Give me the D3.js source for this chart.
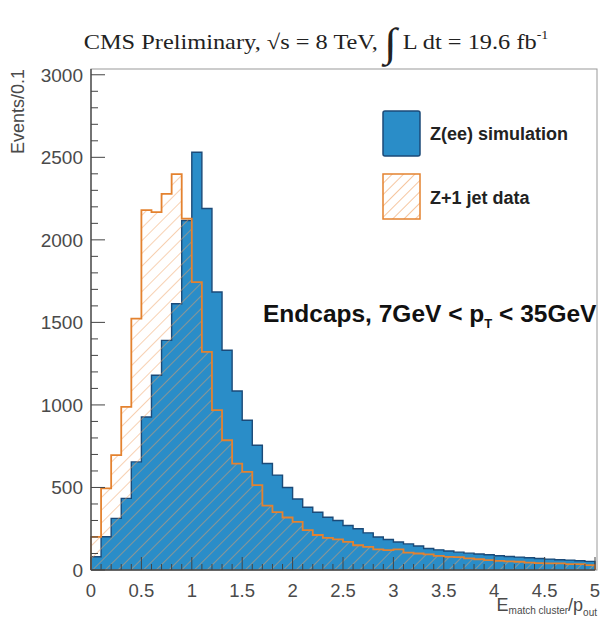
<!DOCTYPE html>
<html>
<head>
<meta charset="utf-8">
<script src="https://cdn.jsdelivr.net/npm/d3@7"></script>
<style>
  html, body { margin: 0; padding: 0; background: #fff; }
  svg { display: block; }
</style>
</head>
<body>
<svg id="chart" width="601" height="619"></svg>
<script>
// ---- data ----
const binEdgesStart = 0, binWidth = 0.1, nBins = 50;
const simValues = [80, 201, 313, 434, 655, 927, 1180, 1391, 1613, 2117,
                   2531, 2190, 1684, 1331, 1084, 907, 756, 645, 575, 500,
                   430, 380, 350, 320, 300, 270, 250, 225, 200, 185,
                   170, 158, 145, 130, 122, 115, 108, 102, 97, 92,
                   86, 82, 78, 74, 70, 66, 62, 60, 56, 52];
const dataValues = [201, 494, 696, 988, 1523, 2180, 2168, 2279, 2398, 2128,
                    1744, 1321, 968, 786, 645, 595, 514, 390, 350, 318,
                    292, 242, 212, 195, 185, 170, 150, 140, 125, 120,
                    125, 105, 100, 95, 85, 80, 78, 70, 65, 60,
                    55, 52, 50, 45, 42, 40, 40, 35, 35, 30];
const xTicks = [0, 0.5, 1, 1.5, 2, 2.5, 3, 3.5, 4, 4.5, 5];
const xTickLabels = ["0", "0.5", "1", "1.5", "2", "2.5", "3", "3.5", "4", "4.5", "5"];
const yTicks = [0, 500, 1000, 1500, 2000, 2500, 3000];
const yTickLabels = ["0", "500", "1000", "1500", "2000", "2500", "3000"];
const legendLabels = ["Z(ee) simulation", "Z+1 jet data"];

// ---- layout ----
const svg = d3.select("#chart");
const x = d3.scaleLinear().domain([0, 5]).range([91, 595]);
const y = d3.scaleLinear().domain([0, 3035]).range([570, 69]);

const blueFill = "#2a8dc8", blueLine = "#1b4a78";
const orange = "#e4822f";
const sans = "Liberation Sans, Arial, Helvetica, sans-serif";

// hatch pattern
const defs = svg.append("defs");
const pat = defs.append("pattern")
  .attr("id", "hatch").attr("patternUnits", "userSpaceOnUse")
  .attr("width", 9).attr("height", 9)
  .attr("patternTransform", "rotate(45)");
pat.append("line").attr("x1", 0).attr("y1", 0).attr("x2", 0).attr("y2", 9)
  .attr("stroke", "#f0a060").attr("stroke-width", 1.2).attr("stroke-opacity", 0.8);

const legPat = defs.append("pattern")
  .attr("id", "hatchLeg").attr("patternUnits", "userSpaceOnUse")
  .attr("width", 8).attr("height", 8)
  .attr("patternTransform", "rotate(45)");
legPat.append("line").attr("x1", 0).attr("y1", 0).attr("x2", 0).attr("y2", 8)
  .attr("stroke", "#f0a060").attr("stroke-width", 1.2);

function stepPoints(vals) {
  const pts = vals.map((v, i) => [binEdgesStart + i * binWidth, v]);
  pts.push([binEdgesStart + nBins * binWidth, vals[vals.length - 1]]);
  return pts;
}
const area = d3.area().curve(d3.curveStepAfter)
  .x(d => x(d[0])).y0(y(0)).y1(d => y(d[1]));
function outlinePath(vals) {
  let p = `M${x(0)},${y(0)}`;
  vals.forEach((v, i) => {
    p += `L${x(i * binWidth)},${y(v)}L${x((i + 1) * binWidth)},${y(v)}`;
  });
  p += `L${x(5)},${y(0)}`;
  return p;
}

// blue histogram
svg.append("path").attr("d", area(stepPoints(simValues)))
  .attr("fill", blueFill);
svg.append("path").attr("d", outlinePath(simValues))
  .attr("fill", "none").attr("stroke", blueLine).attr("stroke-width", 1.4);

// orange hatched histogram
svg.append("path").attr("d", area(stepPoints(dataValues)))
  .attr("fill", "url(#hatch)");
svg.append("path").attr("d", outlinePath(dataValues))
  .attr("fill", "none").attr("stroke", orange).attr("stroke-width", 1.8);

// frame
svg.append("rect").attr("x", x(0)).attr("y", y(3035))
  .attr("width", x(5) - x(0) + 2).attr("height", y(0) - y(3035))
  .attr("fill", "none").attr("stroke", "#999").attr("stroke-width", 1);

// axes
const axisCol = "#444";
const gx = svg.append("g");
gx.append("line").attr("x1", x(0)).attr("x2", x(5)).attr("y1", y(0)).attr("y2", y(0))
  .attr("stroke", axisCol).attr("stroke-width", 1.3);
d3.range(0, 51).forEach(i => {
  const v = i * 0.1;
  const major = i % 5 === 0;
  gx.append("line").attr("x1", x(v)).attr("x2", x(v))
    .attr("y1", y(0)).attr("y2", y(0) - (major ? 13 : 6))
    .attr("stroke", axisCol).attr("stroke-width", 1);
});
gx.selectAll("text.xt").data(xTicks).enter().append("text")
  .attr("x", d => x(d)).attr("y", 597)
  .attr("text-anchor", "middle")
  .attr("font-family", sans)
  .attr("font-size", 18.5).attr("fill", "#4a4a4a")
  .text((d, i) => xTickLabels[i]);

const gy = svg.append("g");
gy.append("line").attr("x1", x(0)).attr("x2", x(0)).attr("y1", y(0)).attr("y2", y(3035))
  .attr("stroke", axisCol).attr("stroke-width", 1.3);
d3.range(0, 31).forEach(i => {
  const v = i * 100;
  const major = i % 5 === 0;
  gy.append("line").attr("x1", x(0)).attr("x2", x(0) + (major ? 14 : 7))
    .attr("y1", y(v)).attr("y2", y(v))
    .attr("stroke", axisCol).attr("stroke-width", 1);
});
gy.selectAll("text.yt").data(yTicks).enter().append("text")
  .attr("x", 83).attr("y", d => y(d) + 7)
  .attr("text-anchor", "end")
  .attr("font-family", sans)
  .attr("font-size", 19).attr("fill", "#4a4a4a")
  .text((d, i) => yTickLabels[i]);

// axis titles
svg.append("text")
  .attr("transform", "translate(24,69) rotate(-90)")
  .attr("text-anchor", "end")
  .attr("font-family", sans)
  .attr("font-size", 18).attr("fill", "#4a4a4a")
  .text("Events/0.1");

const xt = svg.append("text")
  .attr("x", 597).attr("y", 611).attr("text-anchor", "end")
  .attr("font-family", sans)
  .attr("font-size", 18).attr("fill", "#4a4a4a");
xt.append("tspan").text("E");
xt.append("tspan").attr("font-size", 10).attr("dy", 3).text("match cluster");
xt.append("tspan").attr("dy", -3).text("/p");
xt.append("tspan").attr("font-size", 10).attr("dy", 5).text("out");

// title
const tt = svg.append("text")
  .attr("transform", "translate(316,49) scale(1.16,1)")
  .attr("text-anchor", "middle")
  .attr("font-family", "Liberation Serif, Times New Roman, serif")
  .attr("font-size", 21).attr("fill", "#222");
tt.append("tspan").text("CMS Preliminary, \u221As = 8 TeV, ");
tt.append("tspan").attr("font-size", 40).attr("dy", 7).text("\u222B");
tt.append("tspan").attr("dy", -7).text(" L dt = 19.6 fb");
tt.append("tspan").attr("font-size", 12).attr("dy", -10).text("-1");

// legend
const lg = svg.append("g");
lg.append("rect").attr("x", 383).attr("y", 111).attr("width", 37).attr("height", 45)
  .attr("rx", 2).attr("fill", blueFill).attr("stroke", blueLine).attr("stroke-width", 1.5);
lg.append("rect").attr("x", 383).attr("y", 174).attr("width", 37).attr("height", 45)
  .attr("fill", "url(#hatchLeg)").attr("stroke", orange).attr("stroke-width", 1.5);
lg.selectAll("text.lg").data(legendLabels).enter().append("text")
  .attr("x", 430).attr("y", (d, i) => 140 + i * 64)
  .attr("font-family", sans)
  .attr("font-size", 18).attr("font-weight", "bold").attr("fill", "#222")
  .text(d => d);

// annotation
const an = svg.append("text")
  .attr("x", 263).attr("y", 322)
  .attr("font-family", sans)
  .attr("font-size", 24.5).attr("font-weight", "bold").attr("fill", "#111");
an.append("tspan").text("Endcaps, 7GeV < p");
an.append("tspan").attr("font-size", 13).attr("dy", 6).text("T");
an.append("tspan").attr("dy", -6).text(" < 35GeV");
</script>
</body>
</html>
